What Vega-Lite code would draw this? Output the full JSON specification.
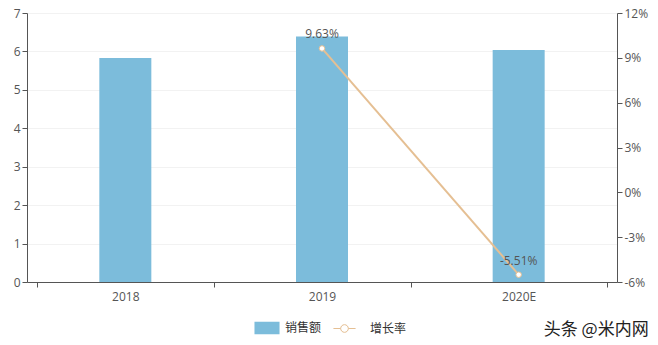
{
  "$schema": "https://vega.github.io/schema/vega-lite/v6.json",
  "width": 590,
  "height": 269,
  "autosize": {"type": "none"},
  "padding": {"left": 27, "top": 13, "right": 41, "bottom": 63},
  "background": "white",
  "config": {
    "view": {"stroke": null},
    "font": "Open Sans",
    "axis": {"labelFont": "Open Sans", "labelFontSize": 12, "labelColor": "#555", "domainColor": "#555", "tickColor": "#555", "titleFontSize": 12},
    "legend": {"labelFont": "Noto Sans CJK SC", "labelFontSize": 12, "labelColor": "#333"}
  },
  "title": {"text": "头条 @米内网", "orient": "bottom", "anchor": "end", "font": "Noto Sans CJK SC", "fontSize": 17, "fontWeight": "normal", "color": "#222", "offset": -13, "dx": 1},
  "data": {"values": [
    {"year": "2018", "sales": 5.83, "growth": null, "label": null},
    {"year": "2019", "sales": 6.39, "growth": 9.63, "label": "9.63%"},
    {"year": "2020E", "sales": 6.04, "growth": -5.51, "label": "-5.51%"}
  ]},
  "encoding": {
    "x": {"field": "year", "type": "ordinal", "sort": null, "title": null,
      "axis": {"labelAngle": 0, "tickBand": "extent", "labelPadding": 4, "domainColor": "#555"}}
  },
  "layer": [
    {
      "mark": {"type": "bar", "width": 52},
      "encoding": {
        "y": {"field": "sales", "type": "quantitative", "title": null,
          "scale": {"domain": [0, 7], "nice": false},
          "axis": {"values": [0,1,2,3,4,5,6,7], "gridColor": "#f2f2f2", "grid": true, "domain": true}},
        "fill": {"datum": "销售额", "type": "nominal",
          "scale": {"domain": ["销售额"], "range": ["#7cbcdb"]},
          "legend": {"title": null, "orient": "none", "legendX": 231, "legendY": 306, "symbolType": "M-1.4,-0.7L1.4,-0.7L1.4,0.7L-1.4,0.7Z", "symbolSize": 320, "symbolStrokeWidth": 0, "labelOffset": 9}}
      }
    },
    {
      "encoding": {
        "y": {"field": "growth", "type": "quantitative", "title": null,
          "scale": {"domain": [-6, 12], "nice": false},
          "axis": {"orient": "right", "values": [-6,-3,0,3,6,9,12], "labelExpr": "datum.value + '%'", "grid": false}}
      },
      "layer": [
        {
          "transform": [{"filter": "datum.growth != null"}],
          "mark": {"type": "line", "strokeWidth": 2, "color": "#e5bf93"},
          "encoding": {
            "stroke": {"datum": "增长率", "type": "nominal",
              "scale": {"domain": ["增长率"], "range": ["#e5bf93"]},
              "legend": {"title": null, "orient": "none", "legendX": 308, "legendY": 306, "symbolType": "M-1.3,0L-0.45,0M0.45,0L1.3,0M-0.45,0A0.45,0.45 0 1,1 0.45,0A0.45,0.45 0 1,1 -0.45,0Z", "symbolSize": 290, "symbolFillColor": "white", "symbolStrokeWidth": 1, "labelOffset": 16}}
          }
        },
        {
          "transform": [{"filter": "datum.growth != null"}],
          "mark": {"type": "point", "filled": true, "fill": "white", "stroke": "#e5bf93", "strokeWidth": 1, "size": 30, "opacity": 1}
        },
        {
          "transform": [{"filter": "datum.growth != null"}],
          "mark": {"type": "text", "dy": -14, "fontSize": 12, "color": "#555", "font": "Open Sans"},
          "encoding": {"text": {"field": "label", "type": "nominal"}}
        }
      ]
    }
  ],
  "resolve": {"scale": {"y": "independent", "fill": "independent", "stroke": "independent"}}
}
